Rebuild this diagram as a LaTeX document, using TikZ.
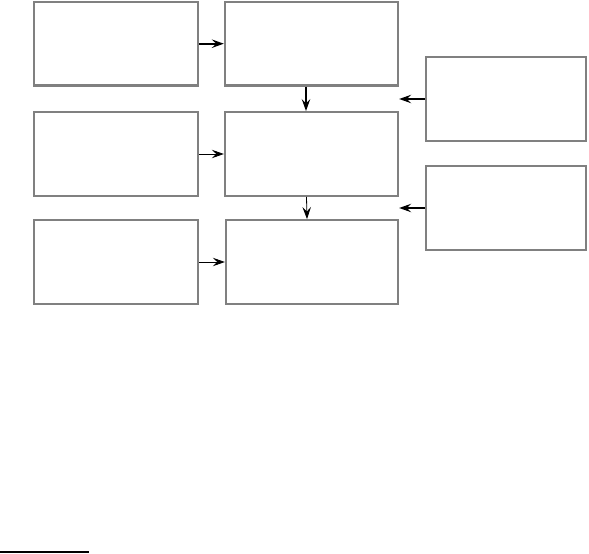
\documentclass[tikz,border=0pt]{standalone}
\usetikzlibrary{positioning,arrows.meta}

\begin{document}
\begin{tikzpicture}[
    x=1pt, y=-1pt,
    box/.style={rectangle, draw=gray, line width=2.4pt, minimum width=164pt, minimum height=83.5pt, inner sep=0pt},
    midbox/.style={box, minimum width=173pt},
    sidebox/.style={box, minimum width=160.5pt},
    link/.style={-{Stealth[length=12pt, width=8.5pt, inset=4.5pt]}, line width=0.8pt},
    boldlink/.style={link, line width=1.6pt},
    sidelink/.style={link, line width=1.3pt}
]
    \useasboundingbox (0,0) rectangle (589,554);

    % Left column
    \node[box] (in1) at (116,43.7) {};
    \node[box] (in2) at (116,154) {};
    \node[box] (in3) at (116,262) {};

    % Middle column
    \node[midbox] (mid1) at (311.5,43.7) {};
    \node[midbox] (mid2) at (311.5,154) {};
    \node[midbox, minimum width=172pt] (mid3) at (312,262) {};

    % Right column
    \node[sidebox] (side1) at (506,99) {};
    \node[sidebox] (side2) at (506,208) {};

    % Connectors
    \draw[boldlink] (in1) -- (mid1);
    \draw[link] (in2) -- (mid2);
    \draw[link] (in3) -- (mid3);
    \draw[boldlink] ([xshift=-5.5pt]mid1.south) -- ([xshift=-5.5pt]mid2.north);
    \draw[link] ([xshift=-5pt]mid2.south) -- ([xshift=-5pt]mid3.north);
    \draw[sidelink] (side1.west) -- (side1.west -| mid1.east);
    \draw[sidelink] (side2.west) -- (side2.west -| mid2.east);

    % Footnote rule
    \coordinate (ruleL) at (0,552);
    \coordinate (ruleR) at (89,552);
    \draw[line width=1.2pt] (ruleL) -- (ruleR);
\end{tikzpicture}
\end{document}
